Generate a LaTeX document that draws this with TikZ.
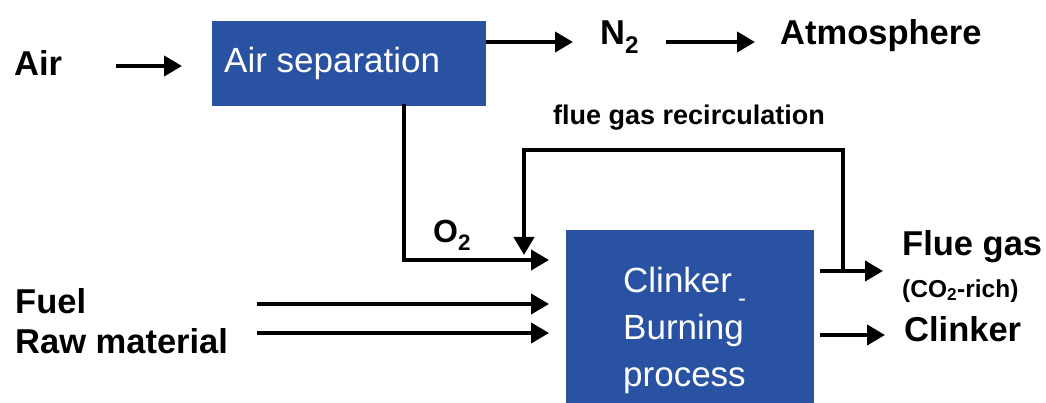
\documentclass[tikz,border=0pt]{standalone}
\usepackage{fontspec}
\setmainfont{Liberation Sans}
\usetikzlibrary{arrows.meta}
\definecolor{boxblue}{RGB}{41,82,162}
\tikzset{
  flow/.style={line width=4.2pt,-{Triangle[length=18pt,width=20pt]}},
  blk/.style={font=\bfseries\fontsize{34.5}{36}\selectfont,inner sep=0pt,anchor=west,text=black},
  boxtxt/.style={font=\fontsize{35}{47}\selectfont,text=white,inner sep=0pt},
  bluebox/.style={fill=boxblue,draw=none}
}
\begin{document}
\begin{tikzpicture}[x=1pt,y=-1pt]
\useasboundingbox (0,0) rectangle (1046,403);
\begin{scope}
\clip (0,0) rectangle (1046,403);
\fill[bluebox] (212,21) rectangle (486,106);
\fill[bluebox] (566,230) rectangle (814,420);
\end{scope}
\node[boxtxt,anchor=base west] (airsep) at (224,73) {Air separation};
\node[boxtxt,anchor=base west] (cl1) at (623,292) {Clinker};
\node[boxtxt,anchor=base west] (cl2) at (623,339) {Burning};
\node[boxtxt,anchor=base west] (cl3) at (623,386) {process};
\node[text=white,font=\fontsize{24}{24}\selectfont,inner sep=0pt] (cldash) at (742,303) {-};

\node[blk,anchor=base west] (air) at (14,76) {Air};
\node[blk,anchor=base west] (n2) at (600,45) {N\textsubscript{2}};
\node[blk,anchor=base west] (atm) at (780,45) {Atmosphere};
\node[blk,font=\bfseries\fontsize{27}{28}\selectfont,anchor=base west] (fgr) at (553,125) {flue gas recirculation};
\node[blk,font=\bfseries\fontsize{32}{33}\selectfont,anchor=base west] (o2) at (433,243) {O\textsubscript{2}};
\node[blk,anchor=base west] (fuel) at (15,313) {Fuel};
\node[blk,anchor=base west] (raw) at (15,353) {Raw material};
\node[blk,anchor=base west] (flue) at (902,256) {Flue gas};
\node[blk,font=\bfseries\fontsize{24.5}{26}\selectfont,anchor=base west] (co2) at (902,297) {(CO\textsubscript{2}-rich)};
\node[blk,anchor=base west] (clk) at (904,341) {Clinker};

\coordinate (airA) at (116,66);
\coordinate (airB) at (182,66);
\coordinate (n2A) at (486,42);
\coordinate (n2B) at (573,42);
\coordinate (atA) at (666,42);
\coordinate (atB) at (755,42);
\coordinate (o2A) at (404,104);
\coordinate (o2C) at (404,260);
\coordinate (o2B) at (549,260);
\coordinate (rcA) at (843,271);
\coordinate (rcR) at (843,150);
\coordinate (rcL) at (524,150);
\coordinate (rcB) at (524,255);
\coordinate (fgA) at (820,271);
\coordinate (fgB) at (883,271);
\coordinate (ckA) at (820,335);
\coordinate (ckB) at (885,335);
\coordinate (fuA) at (257,304);
\coordinate (fuB) at (549,304);
\coordinate (rwA) at (257,333);
\coordinate (rwB) at (549,333);

\draw[flow] (airA) -- (airB);
\draw[flow] (n2A) -- (n2B);
\draw[flow] (atA) -- (atB);
\draw[flow] (o2A) -- (o2C) -- (o2B);
\draw[flow] (rcA) -- (rcR) -- (rcL) -- (rcB);
\draw[flow] (fgA) -- (fgB);
\draw[flow] (ckA) -- (ckB);
\draw[flow] (fuA) -- (fuB);
\draw[flow] (rwA) -- (rwB);
\end{tikzpicture}
\end{document}
